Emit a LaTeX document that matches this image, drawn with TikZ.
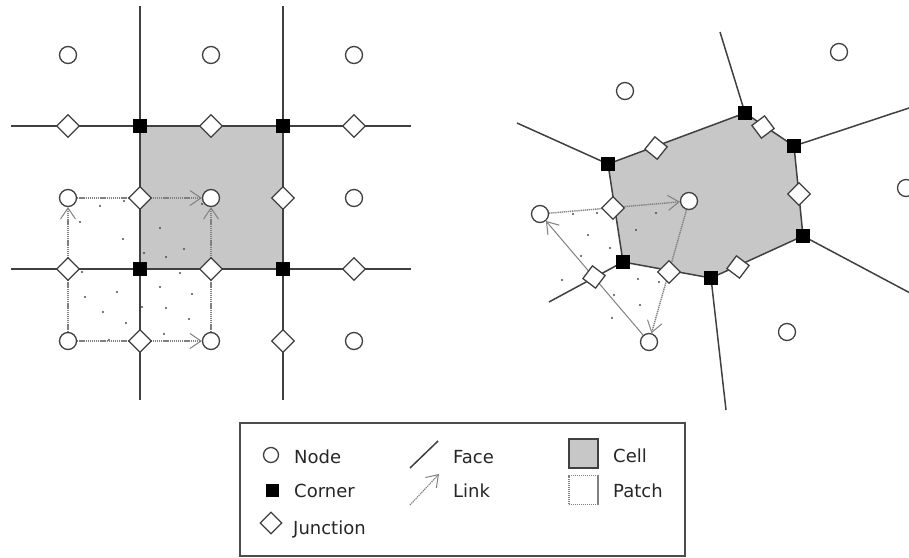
\documentclass[tikz,border=0pt]{standalone}
\usepackage{fontspec}
\setmainfont{DejaVu Sans}
\usetikzlibrary{shapes.geometric,arrows.meta,backgrounds}

\begin{document}
\begin{tikzpicture}[x=1pt,y=-1pt,
  nodept/.style={circle,draw=black!75,line width=1.3pt,fill=white,minimum size=17pt,inner sep=0pt},
  cornerpt/.style={rectangle,fill=black,minimum size=14pt,inner sep=0pt},
  junction/.style={diamond,draw=black!75,line width=1.3pt,fill=white,minimum size=23pt,inner sep=0pt},
  face/.style={draw=black!75,line width=1.9pt},
  cellfill/.style={fill=black!22},
  linkarr/.style={draw=black!50,line width=1.4pt,dash pattern=on 1.3pt off 0.8pt,
    -{Straight Barb[length=11pt,width=15pt,line width=1pt]}},
  linksolid/.style={draw=black!50,line width=1pt,
    -{Straight Barb[length=11pt,width=15pt,line width=1pt]}},
  pdot/.style={fill=black!70},
  lbl/.style={anchor=base west,font=\fontsize{18}{20}\selectfont,inner sep=0pt,text=black!85}
]
\useasboundingbox (0,0) rectangle (909,557);

% ---------------- square grid ----------------
\foreach \c/\x in {1/68,2/211,3/354}
  \foreach \r/\y in {1/55,2/198,3/341}
    \node[nodept] (a\r\c) at (\x,\y) {};
\node[cornerpt] (ac11) at (140,126) {};
\node[cornerpt] (ac12) at (283,126) {};
\node[cornerpt] (ac21) at (140,269) {};
\node[cornerpt] (ac22) at (283,269) {};
\node[junction] (ajh11) at (68,126) {};
\node[junction] (ajh12) at (211,126) {};
\node[junction] (ajh13) at (354,126) {};
\node[junction] (ajh21) at (68,269) {};
\node[junction] (ajh22) at (211,269) {};
\node[junction] (ajh23) at (354,269) {};
\node[junction] (ajv21) at (140,198) {};
\node[junction] (ajv22) at (283,198) {};
\node[junction] (ajv31) at (140,341) {};
\node[junction] (ajv32) at (283,341) {};
\coordinate (av1t) at (140,6);   \coordinate (av1b) at (140,400);
\coordinate (av2t) at (283,6);   \coordinate (av2b) at (283,400);
\coordinate (ah1l) at (11,126);  \coordinate (ah1r) at (411,126);
\coordinate (ah2l) at (11,269);  \coordinate (ah2r) at (411,269);

% ---------------- irregular cells ----------------
\node[cornerpt] (bc1) at (745,113) {};
\node[cornerpt] (bc2) at (794,146) {};
\node[cornerpt] (bc3) at (803,236) {};
\node[cornerpt] (bc4) at (711,278) {};
\node[cornerpt] (bc5) at (623,262) {};
\node[cornerpt] (bc6) at (608,164) {};
\node[junction,rotate=-8] (bj12) at (763,127) {};
\node[junction] (bj23) at (799,194) {};
\node[junction,rotate=8] (bj34) at (738,267) {};
\node[junction] (bj45) at (669,272) {};
\node[junction] (bj56) at (613,208) {};
\node[junction,rotate=6] (bj61) at (656,148) {};
\node[junction,rotate=8] (bjx) at (594,277) {};
\node[nodept] (b1) at (625,91) {};
\node[nodept] (b2) at (839,52) {};
\node[nodept] (b3) at (906,188) {};
\node[nodept] (b4) at (689,201) {};
\node[nodept] (b5) at (540,214) {};
\node[nodept] (b6) at (649,342) {};
\node[nodept] (b7) at (787,332) {};
\coordinate (bf1) at (720,32);
\coordinate (bf2) at (912,107);
\coordinate (bf3) at (912,294);
\coordinate (bf4) at (726,410);
\coordinate (bf5) at (517,123);
\coordinate (bf6) at (549,302);

% ---------------- legend ----------------
\node[draw=black!70,line width=1.2pt,minimum width=445pt,minimum height=133pt,inner sep=0pt]
  (legend) at (462.5,489.5) {};
\node[nodept,minimum size=15pt] (lnode) at (271,455) {};
\node[cornerpt,minimum size=13pt] (lcorner) at (272,490) {};
\node[junction,minimum size=22pt] (ljunc) at (271,523) {};
\node[lbl] (tnode) at (294,463) {Node};
\node[lbl] (tcorner) at (294,497) {Corner};
\node[lbl] (tjunc) at (293,534) {Junction};
\coordinate (lf1) at (410,468); \coordinate (lf2) at (438,441);
\coordinate (ll1) at (410,505); \coordinate (ll2) at (439,474);
\node[lbl] (tface) at (453,463) {Face};
\node[lbl] (tlink) at (453,497) {Link};
\node[draw=black!75,line width=1.2pt,fill=black!22,minimum size=29pt,inner sep=0pt]
  (lcell) at (583.5,453.5) {};
\node[draw=black!50,line width=1.1pt,dash pattern=on 1.2pt off 0.8pt,minimum size=29pt,inner sep=0pt]
  (lpatch) at (583.5,490) {};
\node[lbl] (tcell) at (613,462) {Cell};
\node[lbl] (tpatch) at (613,497) {Patch};

\begin{pgfonlayer}{background}
  % cells
  \path[cellfill] (ac11.center) -- (ac12.center) -- (ac22.center) -- (ac21.center) -- cycle;
  \path[cellfill] (bc1.center) -- (bc2.center) -- (bc3.center) -- (bc4.center)
    -- (bc5.center) -- (bc6.center) -- cycle;
  % sample points scattered in the patches
  \foreach \p in {(100,206),(80,222),(123,239),(160,228),(184,249),(166,257),(124,201),
    (202,204),(85,297),(117,292),(103,312),(126,323),(160,287),(192,294),(166,308),
    (189,319),(164,334),(109,340),(142,307),(144,253),(82,272),(180,273),
    (573,214),(597,213),(588,235),(610,248),(636,230),(656,213),(581,256),
    (638,279),(659,282),(614,295),(640,305),(562,280),(612,318)}
    \fill[pdot] \p circle (1.1pt);
  % faces of the square grid
  \draw[face] (av1t) -- (av1b);
  \draw[face] (av2t) -- (av2b);
  \draw[face] (ah1l) -- (ah1r);
  \draw[face] (ah2l) -- (ah2r);
  % faces of the irregular cells
  \draw[face,line width=1.5pt] (bc1.center) -- (bc2.center) -- (bc3.center) -- (bc4.center)
    -- (bc5.center) -- (bc6.center) -- cycle;
  \draw[face,line width=1.5pt] (bc1.center) -- (bf1);
  \draw[face,line width=1.5pt] (bc2.center) -- (bf2);
  \draw[face,line width=1.5pt] (bc3.center) -- (bf3);
  \draw[face,line width=1.5pt] (bc4.center) -- (bf4);
  \draw[face,line width=1.5pt] (bc6.center) -- (bf5);
  \draw[face,line width=1.5pt] (bc5.center) -- (bf6);
  % links bounding the patches
  \draw[linkarr] (a21) -- (a22);
  \draw[linkarr] (a31) -- (a21);
  \draw[linkarr] (a31) -- (a32);
  \draw[linkarr] (a32) -- (a22);
  \draw[linkarr] (b5) -- (b4);
  \draw[linkarr] (b4) -- (b6);
  \draw[linksolid] (b6) -- (b5);
  % legend strokes
  \draw[face,line width=1.5pt] (lf1) -- (lf2);
  \draw[linkarr,line width=1.1pt] (ll1) -- (ll2);
\end{pgfonlayer}
\end{tikzpicture}
\end{document}
